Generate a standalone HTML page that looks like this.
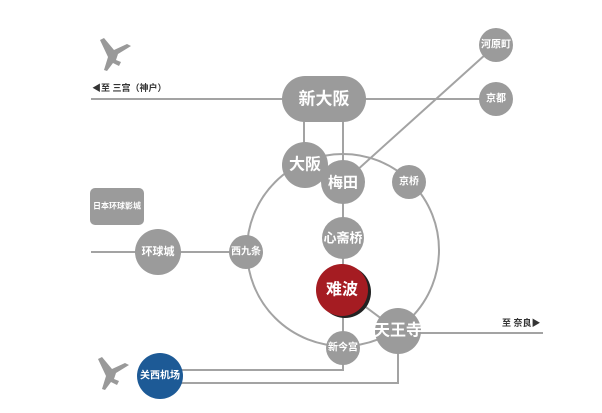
<!DOCTYPE html>
<html><head><meta charset="utf-8"><style>
html,body{margin:0;padding:0;background:#fff;width:602px;height:413px;overflow:hidden}
text{font-family:"Liberation Sans","Noto Sans CJK SC",sans-serif;font-weight:bold;fill:#fff;text-anchor:middle;dominant-baseline:central}
</style></head><body>
<svg width="602" height="413" viewBox="0 0 602 413" xmlns="http://www.w3.org/2000/svg">
<g stroke="#a3a3a3" stroke-width="2" fill="none">
<circle cx="343" cy="250" r="96"/>
<line x1="91" y1="99" x2="496" y2="99"/>
<line x1="304" y1="99" x2="304" y2="165"/>
<line x1="343" y1="99" x2="343" y2="348"/>
<line x1="355" y1="172" x2="496" y2="45"/>
<line x1="91" y1="252" x2="246" y2="252"/>
<line x1="343" y1="290" x2="398" y2="331"/>
<line x1="398" y1="333" x2="543" y2="333"/>
<polyline points="160,370 343,370 343,348"/>
<polyline points="160,383 398,383 398,331"/>
</g>
<g fill="#9b9b9b">
<rect x="282" y="76" width="84" height="46" rx="23"/>
<circle cx="305" cy="165" r="23"/>
<circle cx="343" cy="182" r="22"/>
<circle cx="409" cy="182" r="17"/>
<circle cx="496" cy="45" r="17"/>
<circle cx="496" cy="99" r="17"/>
<circle cx="343" cy="238" r="21"/>
<circle cx="246" cy="252" r="17"/>
<circle cx="158" cy="252" r="23"/>
<circle cx="343" cy="348" r="17"/>
<circle cx="398" cy="331" r="23"/>
<rect x="90" y="188" width="54" height="37" rx="5"/>
</g>
<circle cx="345" cy="292" r="26" fill="#222"/>
<circle cx="342" cy="290" r="26" fill="#a51c22"/>
<circle cx="160" cy="376" r="23" fill="#1d5a96"/>
<g fill="#999">
<path d="M100 40 L104 38 L114 50 L127 44 L131 46 L118 54 L116 60 L121 62 L119 66 L113 63 L107 71 L104 70 L108 57 Z"/>
<path d="M98 359 L102 357 L112 369 L125 363 L129 365 L116 373 L114 379 L119 381 L117 385 L111 382 L105 390 L102 389 L106 376 Z"/>
</g>
<text x="324" y="99" font-size="17">新大阪</text>
<text x="305" y="165" font-size="16">大阪</text>
<text x="343" y="183" font-size="15">梅田</text>
<text x="409" y="182" font-size="10">京桥</text>
<text x="496" y="45" font-size="10">河原町</text>
<text x="496" y="99" font-size="10">京都</text>
<text x="343" y="238" font-size="13">心斋桥</text>
<text x="342" y="290" font-size="16">难波</text>
<text x="246" y="252" font-size="10">西九条</text>
<text x="158" y="252" font-size="11">环球城</text>
<text x="343" y="348" font-size="10">新今宫</text>
<text x="398" y="331" font-size="16">天王寺</text>
<text x="160" y="376" font-size="10">关西机场</text>
<text x="117" y="206" font-size="8">日本环球影城</text>
<text x="92" y="88" font-size="9" style="fill:#333;text-anchor:start">◀至 三宫（神户）</text>
<text x="502" y="323" font-size="9" style="fill:#333;text-anchor:start">至 奈良▶</text>
</svg>
</body></html>
